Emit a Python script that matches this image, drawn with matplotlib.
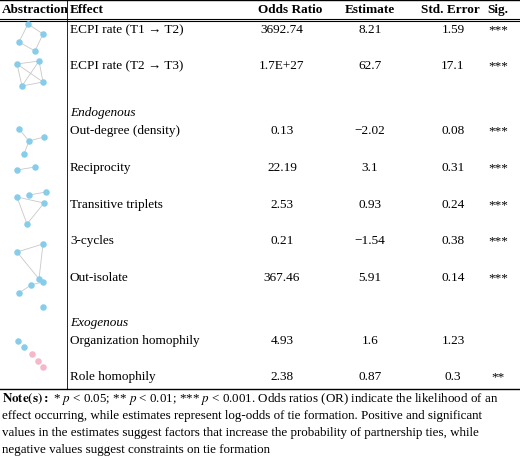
import matplotlib.pyplot as plt

effects = ["ECPI rate (T1 \u2192 T2)", "ECPI rate (T2 \u2192 T3)", "Out-degree (density)", "Reciprocity",
           "Transitive triplets", "3-cycles", "Out-isolate", "Organization homophily", "Role homophily"]
odds = ["3692.74", "1.7E+27", "0.13", "22.19", "2.53", "0.21", "367.46", "4.93", "2.38"]
estimates = ["8.21", "62.7", "\u22122.02", "3.1", "0.93", "\u22121.54", "5.91", "1.6", "0.87"]
std_err = ["1.59", "17.1", "0.08", "0.31", "0.24", "0.38", "0.14", "1.23", "0.3"]
sig = ["***", "***", "***", "***", "***", "***", "***", "", "**"]
row_y = [30, 66, 131, 168, 205, 241, 278, 341, 377]

# little network icons: (nodes, edges, colour)
icons = [
    ([(28, 25), (43, 35), (19, 43), (35, 52)], [(0, 1), (0, 2), (2, 3), (1, 3)], "#87cdea"),
    ([(17, 65), (39, 62), (22, 87), (43, 83)], [(0, 1), (0, 2), (0, 3), (1, 2), (1, 3), (2, 3)], "#87cdea"),
    ([(19, 130), (29, 142), (44, 138), (24, 155)], [(1, 0), (1, 2), (1, 3)], "#87cdea"),
    ([(17, 171), (35, 168)], [(0, 1)], "#87cdea"),
    ([(29, 196), (46, 193)], [(0, 1)], "#87cdea"),
    ([(17, 198), (44, 204), (27, 225)], [(0, 1), (0, 2), (1, 2)], "#87cdea"),
    ([(17, 253), (43, 245), (39, 280)], [(0, 1), (1, 2), (0, 2)], "#87cdea"),
    ([(19, 294), (31, 286), (43, 283), (43, 308)], [(0, 1), (1, 2)], "#87cdea"),
    ([(18, 342), (24, 348)], [], "#87cdea"),
    ([(32, 355), (38, 362), (43, 368)], [], "#f4b8c8"),
]

plt.rcParams['font.family'] = ['Liberation Serif', 'DejaVu Serif']
plt.rcParams['mathtext.fontset'] = 'stix'
fig = plt.figure(figsize=(5.2, 4.64), dpi=100)
ax = fig.add_axes([0, 0, 1, 1])
ax.set_xlim(0, 520)
ax.set_ylim(464, 0)
ax.axis('off')

fs = 9.5
hx = [(2, "Abstraction", "left"), (70, "Effect", "left"), (290, "Odds Ratio", "center"),
      (370, "Estimate", "center"), (450, "Std. Error", "center"), (498, "Sig.", "center")]
for x, t, ha in hx:
    ax.text(x, 10, t, ha=ha, va='center', fontsize=fs, fontweight='bold')

ax.plot([0, 520], [1, 1], color='k', lw=1)
ax.plot([0, 520], [19.5, 19.5], color='k', lw=0.8)
ax.plot([0, 520], [21.5, 21.5], color='k', lw=0.8)
ax.plot([0, 520], [390, 390], color='k', lw=1)
ax.plot([67, 67], [1, 390], color='k', lw=0.6)

for i, y in enumerate(row_y):
    ax.text(70, y, effects[i], ha='left', va='center', fontsize=fs)
    ax.text(282, y, odds[i], ha='center', va='center', fontsize=fs)
    ax.text(370, y, estimates[i], ha='center', va='center', fontsize=fs)
    ax.text(453, y, std_err[i], ha='center', va='center', fontsize=fs)
    ax.text(498, y, sig[i], ha='center', va='center', fontsize=fs)

ax.text(70, 113, "Endogenous", ha='left', va='center', fontsize=fs, style='italic')
ax.text(70, 323, "Exogenous", ha='left', va='center', fontsize=fs, style='italic')

for nodes, edges, col in icons:
    for a, b in edges:
        ax.plot([nodes[a][0], nodes[b][0]], [nodes[a][1], nodes[b][1]], color='#c8c8c8', lw=0.6, zorder=1)
    ax.scatter([n[0] for n in nodes], [n[1] for n in nodes], s=22, color=col, zorder=2, linewidths=0)

note = [r"$\bf{Note(s):}$ * $p$ < 0.05; ** $p$ < 0.01; *** $p$ < 0.001. Odds ratios (OR) indicate the likelihood of an",
        "effect occurring, while estimates represent log-odds of tie formation. Positive and significant",
        "values in the estimates suggest factors that increase the probability of partnership ties, while",
        "negative values suggest constraints on tie formation"]
for i, line in enumerate(note):
    ax.text(2, 399 + i * 17, line, ha='left', va='center', fontsize=9.4)

fig.savefig("out.png", dpi=100)
